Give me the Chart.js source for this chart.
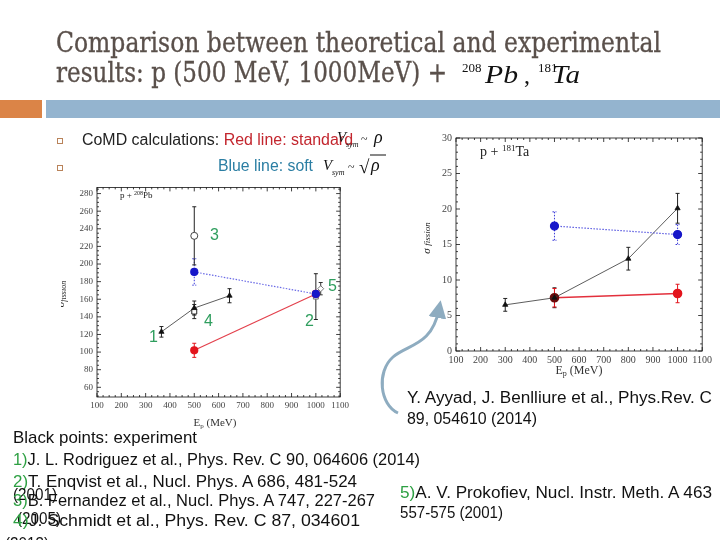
<!DOCTYPE html>
<html>
<head>
<meta charset="utf-8">
<script src="https://cdn.jsdelivr.net/npm/chart.js@4.4.0/dist/chart.umd.min.js"></script>
<style>
  html, body { margin: 0; padding: 0; background: #fff; }
  #slide { position: relative; width: 720px; height: 540px; overflow: hidden; background: #fff; }
  canvas { position: absolute; }
  #pbChart { left: 61px; top: 178px; }
  #taChart { left: 420px; top: 128px; }
  #overlay { position: absolute; left: 0; top: 0; pointer-events: none; }
</style>
</head>
<body>
<div id="slide">
  <canvas id="pbChart" width="291" height="250"></canvas>
  <canvas id="taChart" width="295" height="255"></canvas>

  <svg id="overlay" width="720" height="540" xmlns="http://www.w3.org/2000/svg">
    <defs>
      <clipPath id="pbClip"><rect x="61" y="170" width="300" height="260"></rect></clipPath>
      <marker id="head" markerWidth="6" markerHeight="6" refX="3" refY="3" orient="auto" markerUnits="strokeWidth">
        <path d="M0,0 L6,3 L0,6 z" fill="#8eacc0"></path>
      </marker>
    </defs>

    <!-- title -->
    <text x="56" y="52" font-family="DejaVu Serif" font-size="27" fill="#5a504b" stroke="#5a504b" stroke-width="0.35"
          textLength="605" lengthAdjust="spacingAndGlyphs">Comparison between theoretical and experimental</text>
    <text x="56" y="82" font-family="DejaVu Serif" font-size="27" fill="#5a504b" stroke="#5a504b" stroke-width="0.35"
          textLength="391" lengthAdjust="spacingAndGlyphs">results: p (500 MeV, 1000MeV) +</text>
    <g font-family="Liberation Serif" fill="#111">
      <text x="462" y="72" font-size="13">208</text>
      <text x="485" y="83" font-size="26" font-style="italic" textLength="33" lengthAdjust="spacingAndGlyphs">Pb</text>
      <text x="524" y="83" font-size="24">,</text>
      <text x="538" y="72" font-size="13">181</text>
      <text x="552" y="83" font-size="26" font-style="italic" textLength="28" lengthAdjust="spacingAndGlyphs">Ta</text>
    </g>

    <!-- header bar -->
    <rect x="0" y="100" width="42" height="18" fill="#db8447"></rect>
    <rect x="46" y="100" width="674" height="18" fill="#94b4cf"></rect>

    <!-- bullets -->
    <rect x="57.5" y="138.5" width="5" height="5" fill="none" stroke="#b9835a" stroke-width="1"></rect>
    <rect x="57.5" y="165.5" width="5" height="5" fill="none" stroke="#b9835a" stroke-width="1"></rect>
    <text x="82" y="145" font-family="Liberation Sans" font-size="16" fill="#222"
          textLength="271" lengthAdjust="spacingAndGlyphs">CoMD calculations: <tspan fill="#c3262e">Red line: standard</tspan></text>
    <text x="218" y="171" font-family="Liberation Sans" font-size="16" fill="#2b7ea3"
          textLength="95" lengthAdjust="spacingAndGlyphs">Blue line: soft</text>
    <g font-family="Liberation Serif" font-style="italic" fill="#111">
      <text x="337" y="142" font-size="15">V</text>
      <text x="346" y="147" font-size="8">sym</text>
      <text x="361" y="143" font-size="12" font-style="normal">~</text>
      <text x="374" y="143" font-size="18">ρ</text>
      <text x="323" y="170" font-size="15">V</text>
      <text x="332" y="175" font-size="8">sym</text>
      <text x="348" y="171" font-size="12" font-style="normal">~</text>
      <text x="359" y="173" font-size="19" font-style="normal">√</text>
      <line x1="370" y1="155" x2="386" y2="155" stroke="#111" stroke-width="1"></line>
      <text x="371" y="171" font-size="18">ρ</text>
    </g>

    <!-- Pb panel annotations -->
    <g clip-path="url(#pbClip)" font-family="Liberation Serif" fill="#222">
      <text transform="translate(64,294) rotate(-90)" text-anchor="middle" font-size="11" font-style="italic">σ<tspan font-size="8" dy="2">fission</tspan></text>
    </g>
    <text x="215" y="426" text-anchor="middle" font-family="Liberation Serif" font-size="11" fill="#333">E<tspan font-size="7" dy="2">p</tspan><tspan dy="-2"> (MeV)</tspan></text>
    <text x="120" y="198" font-family="Liberation Serif" font-size="9" fill="#222">p + <tspan font-size="6" dy="-3">208</tspan><tspan dy="3">Pb</tspan></text>
    <g font-family="Liberation Sans" font-size="16" fill="#2f9e5e">
      <text x="210" y="240">3</text>
      <text x="328" y="291">5</text>
      <text x="204" y="326">4</text>
      <text x="305" y="326">2</text>
      <text x="149" y="342">1</text>
    </g>

    <!-- Ta panel annotations -->
    <text transform="translate(430,238) rotate(-90)" text-anchor="middle" font-family="Liberation Serif" font-size="11" font-style="italic" fill="#222">σ <tspan font-size="9">fission</tspan></text>
    <text x="579" y="374" text-anchor="middle" font-family="Liberation Serif" font-size="12" fill="#333">E<tspan font-size="8" dy="2">p</tspan><tspan dy="-2"> (MeV)</tspan></text>
    <text x="480" y="156" font-family="Liberation Serif" font-size="14" fill="#222">p + <tspan font-size="9" dy="-5">181</tspan><tspan dy="5">Ta</tspan></text>

    <!-- arrow -->
    <path d="M398,413 C380,405 376,372 393,357 C408,344 432,346 439,309" fill="none"
          stroke="#8eacc0" stroke-width="3" marker-end="url(#head)"></path>

    <!-- references -->
    <g font-family="Liberation Sans" font-size="16" fill="#111">
      <text x="407" y="403" textLength="305" lengthAdjust="spacingAndGlyphs">Y. Ayyad, J. Benlliure et al., Phys.Rev. C</text>
      <text x="407" y="424" textLength="130" lengthAdjust="spacingAndGlyphs">89, 054610 (2014)</text>
      <text x="13" y="443" font-size="17" textLength="184" lengthAdjust="spacingAndGlyphs">Black points: experiment</text>
      <text x="13" y="465" textLength="407" lengthAdjust="spacingAndGlyphs"><tspan fill="#2ea043">1)</tspan>J. L. Rodriguez et al., Phys. Rev. C 90, 064606 (2014)</text>
      <text x="13" y="487" textLength="344" lengthAdjust="spacingAndGlyphs"><tspan fill="#2ea043">2)</tspan>T. Enqvist et al., Nucl. Phys. A  686, 481-524</text>
      <text x="13" y="500" textLength="44" lengthAdjust="spacingAndGlyphs">(2001)</text>
      <text x="13" y="506" textLength="362" lengthAdjust="spacingAndGlyphs"><tspan fill="#2ea043">3)</tspan>B. Fernandez et al., Nucl. Phys. A 747, 227-267</text>
      <text x="17" y="524" textLength="44" lengthAdjust="spacingAndGlyphs">(2005)</text>
      <text x="13" y="526" textLength="347" lengthAdjust="spacingAndGlyphs"><tspan fill="#2ea043">4)</tspan>J. Schmidt et al., Phys. Rev. C 87, 034601</text>
      <text x="5" y="549" textLength="44" lengthAdjust="spacingAndGlyphs">(2013)</text>
      <text x="400" y="498" textLength="312" lengthAdjust="spacingAndGlyphs"><tspan fill="#2ea043">5)</tspan>A. V. Prokofiev, Nucl. Instr. Meth. A 463</text>
      <text x="400" y="518" textLength="103" lengthAdjust="spacingAndGlyphs">557-575 (2001)</text>
    </g>
  </svg>
</div>

<script>
// ---- data ----
const energyTicks = [100, 200, 300, 400, 500, 600, 700, 800, 900, 1000, 1100];
const pbSigmaTicks = [60, 80, 100, 120, 140, 160, 180, 200, 220, 240, 260, 280];
const taSigmaTicks = [0, 5, 10, 15, 20, 25, 30];

// p + 208Pb
const pbRodriguezEnergy = [365, 500, 645];
const pbRodriguezSigma = [123, 150, 164];
const pbRodriguezErr = [6, 8, 8];
const pbSchmidtEnergy = [500];
const pbSchmidtSigma = [146];
const pbSchmidtErr = [8];
const pbFernandezEnergy = [500];
const pbFernandezSigma = [232];
const pbFernandezErr = [33];
const pbEnqvistEnergy = [1000];
const pbEnqvistSigma = [163];
const pbEnqvistErr = [26];
const pbProkofievEnergy = [1020];
const pbProkofievSigma = [172];
const pbProkofievErr = [7];
const pbSoftEnergy = [500, 1000];
const pbSoftSigma = [191, 166];
const pbSoftErr = [15, 0];
const pbStandardEnergy = [500, 1000];
const pbStandardSigma = [102, 166];
const pbStandardErr = [8, 0];

// p + 181Ta
const taExpEnergy = [300, 500, 800, 1000];
const taExpSigma = [6.5, 7.5, 13.0, 20.1];
const taExpErr = [0.9, 1.4, 1.6, 2.1];
const taSoftEnergy = [500, 1000];
const taSoftSigma = [17.6, 16.4];
const taSoftErr = [2.0, 1.4];
const taStandardEnergy = [500, 1000];
const taStandardSigma = [7.5, 8.1];
const taStandardErr = [1.3, 1.3];

function toPoints(xs, ys) {
  return xs.map((x, i) => ({ x: x, y: ys[i] }));
}

// vertical error bars with small caps, drawn under the markers
const errorBarPlugin = {
  id: "errorBars",
  beforeDatasetsDraw(chart) {
    const ctx = chart.ctx;
    const y = chart.scales.y;
    chart.data.datasets.forEach((ds, i) => {
      if (!ds.errors) return;
      chart.getDatasetMeta(i).data.forEach((el, j) => {
        const err = ds.errors[j];
        if (!err) return;
        const v = ds.data[j].y;
        const top = y.getPixelForValue(v + err);
        const bottom = y.getPixelForValue(v - err);
        ctx.save();
        ctx.strokeStyle = ds.errorColor;
        ctx.lineWidth = 1;
        ctx.setLineDash(ds.errorDash || []);
        ctx.beginPath();
        ctx.moveTo(el.x, top);
        ctx.lineTo(el.x, bottom);
        ctx.moveTo(el.x - 2, top);
        ctx.lineTo(el.x + 2, top);
        ctx.moveTo(el.x - 2, bottom);
        ctx.lineTo(el.x + 2, bottom);
        ctx.stroke();
        ctx.restore();
      });
    });
  },
};

// boxed frame with inward ticks on all four sides
const framePlugin = {
  id: "frame",
  afterDraw(chart, args, opts) {
    const ctx = chart.ctx;
    const a = chart.chartArea;
    const x = chart.scales.x;
    const y = chart.scales.y;
    ctx.save();
    ctx.strokeStyle = "#111";
    ctx.lineWidth = 0.8;
    ctx.strokeRect(a.left, a.top, a.right - a.left, a.bottom - a.top);
    ctx.beginPath();
    for (let v = Math.ceil(x.min / opts.xMinor) * opts.xMinor; v <= x.max + 1e-6; v += opts.xMinor) {
      const px = x.getPixelForValue(v);
      const len = Math.abs(v / opts.xMajor - Math.round(v / opts.xMajor)) < 1e-6 ? 4 : 2;
      ctx.moveTo(px, a.bottom);
      ctx.lineTo(px, a.bottom - len);
      ctx.moveTo(px, a.top);
      ctx.lineTo(px, a.top + len);
    }
    for (let v = Math.ceil(y.min / opts.yMinor) * opts.yMinor; v <= y.max + 1e-6; v += opts.yMinor) {
      const py = y.getPixelForValue(v);
      const len = Math.abs(v / opts.yMajor - Math.round(v / opts.yMajor)) < 1e-6 ? 4 : 2;
      ctx.moveTo(a.left, py);
      ctx.lineTo(a.left + len, py);
      ctx.moveTo(a.right, py);
      ctx.lineTo(a.right - len, py);
    }
    ctx.stroke();
    ctx.restore();
  },
};

function makeChart(id, datasets, o) {
  return new Chart(document.getElementById(id), {
    type: "scatter",
    data: { datasets: datasets },
    plugins: [errorBarPlugin, framePlugin],
    options: {
      responsive: false,
      animation: false,
      layout: { padding: o.padding },
      plugins: {
        legend: { display: false },
        tooltip: { enabled: false },
        frame: o.frame,
      },
      scales: {
        x: {
          type: "linear",
          min: 100,
          max: 1100,
          afterBuildTicks: (s) => { s.ticks = energyTicks.map((v) => ({ value: v })); },
          afterFit: (s) => { s.height = o.xHeight; },
          grid: { display: false, drawTicks: false },
          border: { display: false },
          ticks: {
            font: { family: "Liberation Serif", size: o.fontSize }, color: "#444", padding: 3,
            maxRotation: 0, autoSkip: false, callback: (v) => String(v),
          },
        },
        y: {
          type: "linear",
          min: o.yMin,
          max: o.yMax,
          afterBuildTicks: (s) => { s.ticks = o.yTicks.map((v) => ({ value: v })); },
          afterFit: (s) => { s.width = 36; },
          grid: { display: false, drawTicks: false },
          border: { display: false },
          ticks: {
            font: { family: "Liberation Serif", size: o.fontSize }, color: "#444", padding: 4,
            autoSkip: false, callback: (v) => String(v),
          },
        },
      },
    },
  });
}

const red = "#e3141c";
const blue = "#1717c9";

makeChart("pbChart", [
  {
    data: toPoints(pbSoftEnergy, pbSoftSigma), showLine: true,
    borderColor: "#6a6ae6", borderWidth: 1.2, borderDash: [1.5, 1.5],
    pointStyle: "circle", pointRadius: 3.5, pointBackgroundColor: blue, pointBorderColor: blue,
    errors: pbSoftErr, errorColor: "#3a3ad8", errorDash: [1.5, 1.5],
  },
  {
    data: toPoints(pbStandardEnergy, pbStandardSigma), showLine: true,
    borderColor: "#e3404c", borderWidth: 1.2,
    pointStyle: "circle", pointRadius: 3.5, pointBackgroundColor: red, pointBorderColor: red,
    errors: pbStandardErr, errorColor: red,
  },
  {
    data: toPoints(pbRodriguezEnergy, pbRodriguezSigma), showLine: true,
    borderColor: "#333", borderWidth: 0.8,
    pointStyle: "triangle", pointRadius: 3, pointBackgroundColor: "#111", pointBorderColor: "#111",
    errors: pbRodriguezErr, errorColor: "#222",
  },
  {
    data: toPoints(pbSchmidtEnergy, pbSchmidtSigma),
    pointStyle: "rect", pointRadius: 3.5, pointBackgroundColor: "#fff", pointBorderColor: "#222", pointBorderWidth: 1,
    errors: pbSchmidtErr, errorColor: "#222",
  },
  {
    data: toPoints(pbFernandezEnergy, pbFernandezSigma),
    pointStyle: "circle", pointRadius: 3.5, pointBackgroundColor: "#fff", pointBorderColor: "#444", pointBorderWidth: 1,
    errors: pbFernandezErr, errorColor: "#222",
  },
  {
    data: toPoints(pbEnqvistEnergy, pbEnqvistSigma),
    pointStyle: "rect", pointRadius: 3.5, pointBackgroundColor: "#dcdcf0", pointBorderColor: "#777", pointBorderWidth: 1,
    errors: pbEnqvistErr, errorColor: "#222",
  },
  {
    data: toPoints(pbProkofievEnergy, pbProkofievSigma),
    pointStyle: "rectRot", pointRadius: 3, pointBackgroundColor: "#fff", pointBorderColor: "#777", pointBorderWidth: 1,
    errors: pbProkofievErr, errorColor: "#333",
  },
], {
  padding: { top: 5, right: 9, left: 0, bottom: 0 },
  xHeight: 31, yMin: 49, yMax: 287, yTicks: pbSigmaTicks, fontSize: 9,
  frame: { xMinor: 25, xMajor: 100, yMinor: 5, yMajor: 20 },
});

makeChart("taChart", [
  {
    data: toPoints(taSoftEnergy, taSoftSigma), showLine: true,
    borderColor: "#5a5ae0", borderWidth: 1.2, borderDash: [1.5, 1.5],
    pointStyle: "circle", pointRadius: 4, pointBackgroundColor: blue, pointBorderColor: blue,
    errors: taSoftErr, errorColor: "#3a3ad8", errorDash: [1.5, 1.5],
  },
  {
    data: toPoints(taExpEnergy, taExpSigma), showLine: true,
    borderColor: "#333", borderWidth: 0.8,
    pointStyle: "triangle", pointRadius: 3, pointBackgroundColor: "#111", pointBorderColor: "#111",
    errors: taExpErr, errorColor: "#222",
  },
  {
    data: toPoints(taStandardEnergy, taStandardSigma), showLine: true,
    borderColor: "#e3303c", borderWidth: 1.6,
    pointStyle: "circle", pointRadius: 4,
    pointBackgroundColor: ["#6b0c0c", red], pointBorderColor: ["#6b0c0c", red],
    errors: taStandardErr, errorColor: red,
  },
], {
  padding: { top: 8, right: 11, left: 0, bottom: 0 },
  xHeight: 32, yMin: 0, yMax: 30, yTicks: taSigmaTicks, fontSize: 10,
  frame: { xMinor: 25, xMajor: 100, yMinor: 1, yMajor: 5 },
});
</script>
</body>
</html>
